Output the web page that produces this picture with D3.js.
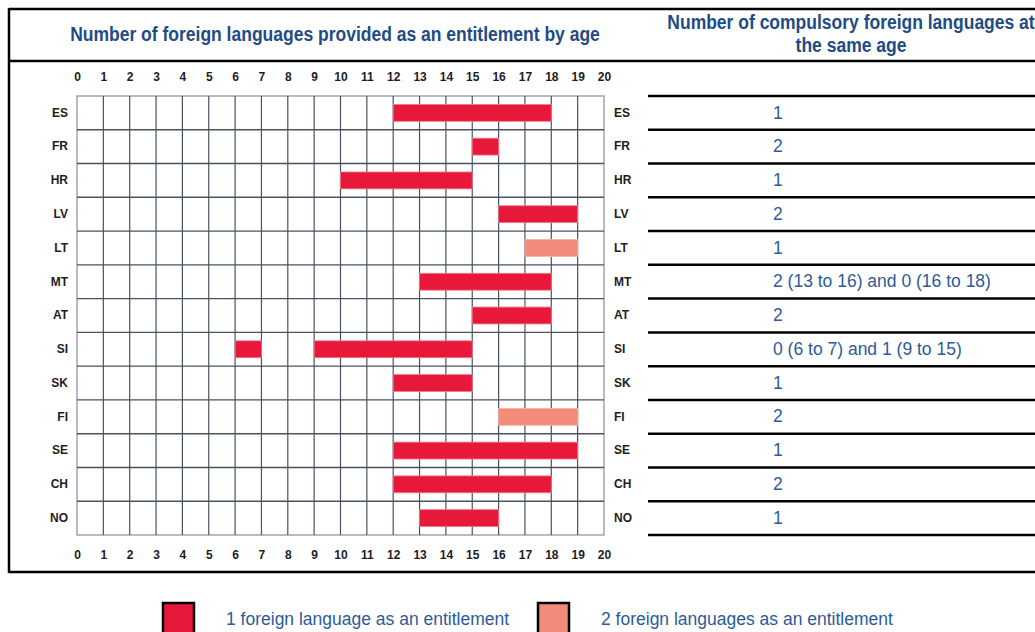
<!DOCTYPE html>
<html>
<head>
<meta charset="utf-8">
<script src="https://cdn.jsdelivr.net/npm/d3@7"></script>
<style>
  body { margin: 0; background: #fff; }
  svg { display: block; }
  .narrow { font-family: "Liberation Sans Narrow", "Arial Narrow", "Liberation Sans", Arial, sans-serif; }
</style>
</head>
<body>
<div id="vis"></div>
<script>
const FRAME_WIDTH = 1035;
const FRAME_HEIGHT = 632;

// data
const countries = ["ES", "FR", "HR", "LV", "LT", "MT", "AT", "SI", "SK", "FI", "SE", "CH", "NO"];
const ages = d3.range(0, 21);
// one entry per bar (SI has two)
const barCountry = ["ES", "FR", "HR", "LV", "LT", "MT", "AT", "SI", "SI", "SK", "FI", "SE", "CH", "NO"];
const barStart   = [12, 15, 10, 16, 17, 13, 15, 6, 9, 12, 16, 12, 12, 13];
const barEnd     = [18, 16, 15, 19, 19, 18, 18, 7, 15, 15, 19, 19, 18, 16];
const barType    = [1, 1, 1, 1, 2, 1, 1, 1, 1, 1, 2, 1, 1, 1];
const compulsory = ["1", "2", "1", "2", "1", "2 (13 to 16) and 0 (16 to 18)", "2",
                    "0 (6 to 7) and 1 (9 to 15)", "1", "2", "1", "2", "1"];
const legendLabels = ["1 foreign language as an entitlement", "2 foreign languages as an entitlement"];

const COLORS = {1: "#e8183a", 2: "#f28b7a"};
const TITLE_BLUE = "#1f4b87";
const TEXT_BLUE = "#2d5b98";

const svg = d3.select("#vis")
  .append("svg")
    .attr("width", FRAME_WIDTH)
    .attr("height", FRAME_HEIGHT);

const X = d3.scaleLinear().domain([0, 20]).range([77, 604]);
const Y = d3.scaleBand().domain(countries).range([96, 535]);

// outer frame lines
const frame = svg.append("g").attr("stroke", "#000").attr("stroke-width", 2.5);
frame.append("line").attr("x1", 9).attr("x2", FRAME_WIDTH).attr("y1", 9).attr("y2", 9);
frame.append("line").attr("x1", 9).attr("x2", FRAME_WIDTH).attr("y1", 61).attr("y2", 61);
frame.append("line").attr("x1", 9).attr("x2", FRAME_WIDTH).attr("y1", 572).attr("y2", 572);
frame.append("line").attr("x1", 9).attr("x2", 9).attr("y1", 8).attr("y2", 573);

// titles (no narrow font installed, so squeeze horizontally)
function title(x, y, txt) {
  svg.append("text")
      .attr("class", "narrow")
      .attr("transform", "translate(" + x + "," + y + ") scale(0.875,1)")
      .attr("text-anchor", "middle").attr("dominant-baseline", "middle")
      .attr("font-size", 20).attr("font-weight", "bold")
      .attr("fill", TITLE_BLUE)
      .text(txt);
}
title(335, 36, "Number of foreign languages provided as an entitlement by age");
title(851, 24, "Number of compulsory foreign languages at");
title(851, 47, "the same age");

// grid
svg.append("rect")
    .attr("x", X(0)).attr("y", Y.range()[0])
    .attr("width", X(20) - X(0)).attr("height", Y.range()[1] - Y.range()[0])
    .attr("fill", "#fff").attr("stroke", "#a0a4ab").attr("stroke-width", 1.5);

svg.append("g")
  .selectAll("line")
  .data(ages.slice(1, 20))
  .enter()
  .append("line")
    .attr("x1", d => X(d)).attr("x2", d => X(d))
    .attr("y1", Y.range()[0]).attr("y2", Y.range()[1])
    .attr("stroke", "#4a5262").attr("stroke-width", 1.2);

svg.append("g")
  .selectAll("line")
  .data(countries.slice(1))
  .enter()
  .append("line")
    .attr("x1", X(0)).attr("x2", X(20))
    .attr("y1", d => Y(d)).attr("y2", d => Y(d))
    .attr("stroke", "#4a5262").attr("stroke-width", 1.4);

// bars
svg.append("g")
  .selectAll("rect")
  .data(barCountry)
  .enter()
  .append("rect")
    .attr("x", (d, i) => X(barStart[i]))
    .attr("y", d => Y(d) + Y.bandwidth() * 0.25)
    .attr("width", (d, i) => X(barEnd[i]) - X(barStart[i]))
    .attr("height", Y.bandwidth() * 0.5)
    .attr("fill", (d, i) => COLORS[barType[i]])
    .attr("stroke", (d, i) => barType[i] === 1 ? "#f07a8c" : "#f6b3a6")
    .attr("stroke-width", 0.8);

// axes
function styleAxis(g) {
  g.select(".domain").remove();
  g.selectAll("text")
    .attr("class", "narrow")
    .attr("font-size", 12)
    .attr("font-weight", "bold")
    .attr("fill", "#1d1d24");
}

svg.append("g")
    .attr("transform", "translate(0, 81)")
    .call(d3.axisTop(X).ticks(20).tickFormat(d3.format("d")).tickSize(0).tickPadding(0))
    .call(styleAxis);

svg.append("g")
    .attr("transform", "translate(0, 550)")
    .call(d3.axisBottom(X).ticks(20).tickFormat(d3.format("d")).tickSize(0).tickPadding(0))
    .call(styleAxis);

svg.append("g")
    .attr("transform", "translate(68, 0)")
    .call(d3.axisLeft(Y).tickSize(0).tickPadding(0))
    .call(styleAxis);

svg.append("g")
    .attr("transform", "translate(614, 0)")
    .call(d3.axisRight(Y).tickSize(0).tickPadding(0))
    .call(styleAxis);

// right table
svg.append("g")
  .selectAll("line")
  .data(countries.concat(["end"]))
  .enter()
  .append("line")
    .attr("x1", 648).attr("x2", FRAME_WIDTH)
    .attr("y1", (d, i) => i < countries.length ? Y(d) : Y.range()[1])
    .attr("y2", (d, i) => i < countries.length ? Y(d) : Y.range()[1])
    .attr("stroke", "#000").attr("stroke-width", 2.5);

svg.append("g")
  .selectAll("text")
  .data(compulsory)
  .enter()
  .append("text")
    .attr("x", 773)
    .attr("y", (d, i) => Y(countries[i]) + Y.bandwidth() / 2 + 1)
    .attr("dominant-baseline", "middle")
    .attr("font-family", "'Liberation Sans', Arial, sans-serif")
    .attr("font-size", 17.5)
    .attr("fill", TEXT_BLUE)
    .text(d => d);

// legend
const legendX = [163, 538];
const legend = svg.append("g")
  .selectAll("g")
  .data(legendLabels)
  .enter()
  .append("g")
    .attr("transform", (d, i) => "translate(" + legendX[i] + ", 603)");

legend.append("rect")
    .attr("width", 31).attr("height", 40)
    .attr("fill", (d, i) => COLORS[i + 1])
    .attr("stroke", "#000").attr("stroke-width", 2.5);

legend.append("text")
    .attr("x", 63).attr("y", 17)
    .attr("dominant-baseline", "middle")
    .attr("font-family", "'Liberation Sans', Arial, sans-serif")
    .attr("font-size", 17.5)
    .attr("fill", TEXT_BLUE)
    .text(d => d);
</script>
</body>
</html>
